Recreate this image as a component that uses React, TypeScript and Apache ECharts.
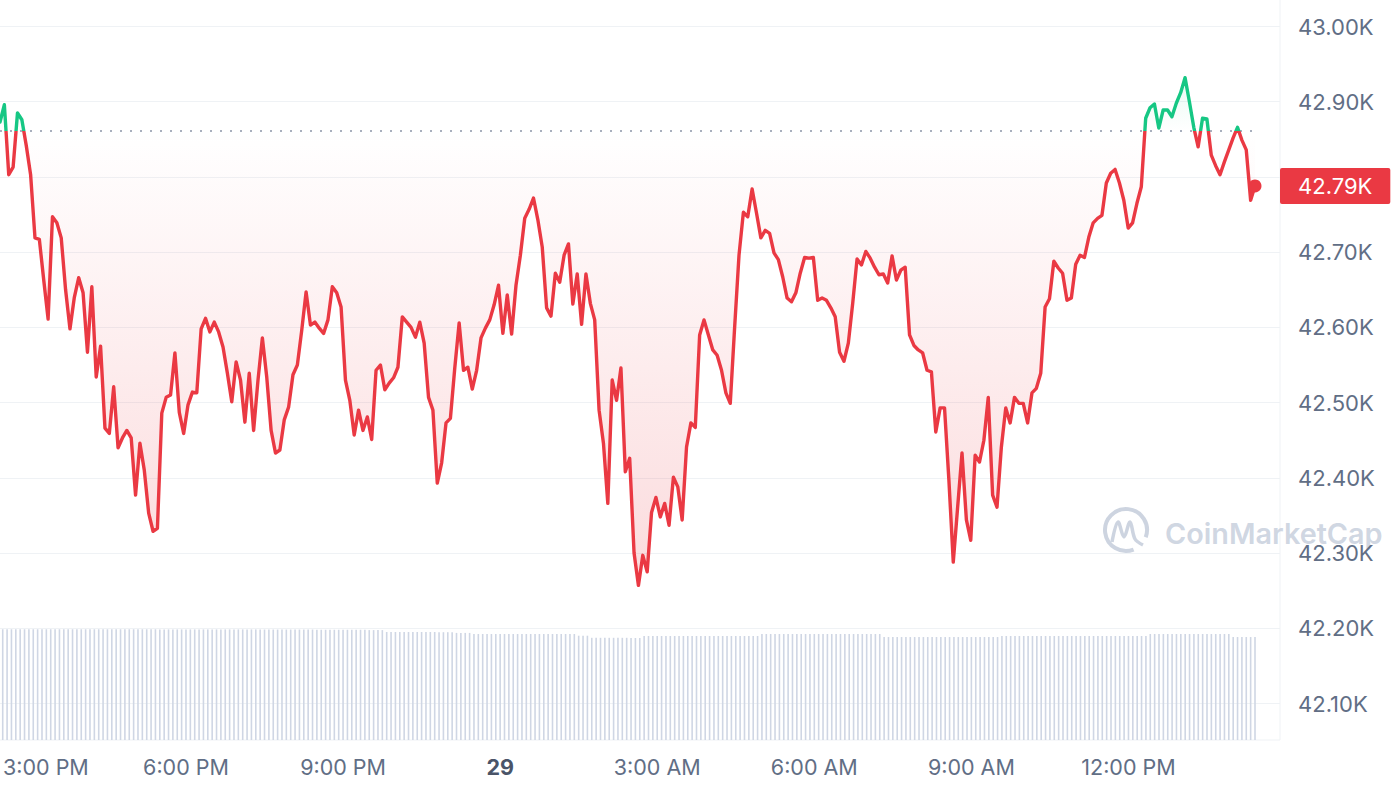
import React, { useEffect, useRef } from "react";
import * as echarts from "echarts";

// ---- data ----
const BASELINE = 42861;
const START_MINUTE = 14 * 60 + 30; // first point ~2:30 PM, 5-minute steps

const prices: number[] = [
  42873, 42896, 42803, 42813, 42885, 42876, 42842, 42803, 42719, 42717, 42663, 42611,
  42747, 42739, 42719, 42650, 42598, 42640, 42666, 42646, 42567, 42654, 42534, 42575,
  42466, 42459, 42521, 42440, 42453, 42463, 42453, 42377, 42446, 42410, 42353, 42329,
  42333, 42486, 42507, 42510, 42566, 42487, 42459, 42497, 42514, 42513, 42598, 42612,
  42594, 42607, 42594, 42574, 42539, 42501, 42554, 42530, 42474, 42539, 42463, 42530,
  42586, 42534, 42463, 42433, 42437, 42477, 42494, 42537, 42550, 42596, 42647, 42603,
  42607, 42599, 42592, 42610, 42654, 42646, 42627, 42530, 42503, 42457, 42490, 42463,
  42481, 42451, 42543, 42550, 42517, 42526, 42533, 42547, 42614, 42607, 42600, 42587,
  42607, 42579, 42507, 42490, 42393, 42420, 42473, 42479, 42546, 42606, 42543, 42547,
  42518, 42543, 42586, 42599, 42610, 42630, 42656, 42592, 42643, 42591, 42656, 42696,
  42745, 42757, 42772, 42743, 42707, 42626, 42615, 42672, 42660, 42696, 42711, 42631,
  42671, 42604, 42671, 42632, 42610, 42490, 42446, 42366, 42530, 42503, 42546, 42408,
  42426, 42300, 42257, 42297, 42275, 42354, 42374, 42348, 42366, 42337, 42401, 42388,
  42344, 42441, 42473, 42467, 42590, 42610, 42590, 42570, 42563, 42543, 42513, 42499,
  42600, 42696, 42753, 42747, 42784, 42752, 42719, 42729, 42725, 42699, 42690, 42667,
  42639, 42634, 42646, 42672, 42693, 42692, 42693, 42636, 42639, 42636, 42626, 42614,
  42567, 42555, 42579, 42632, 42691, 42683, 42701, 42692, 42680, 42670, 42671, 42659,
  42695, 42663, 42676, 42680, 42590, 42576, 42570, 42566, 42543, 42541, 42461, 42493,
  42493, 42397, 42288, 42361, 42433, 42344, 42317, 42430, 42421, 42450, 42507, 42377,
  42361, 42441, 42493, 42473, 42507, 42499, 42499, 42473, 42513, 42519, 42539, 42627,
  42638, 42688, 42679, 42672, 42636, 42639, 42684, 42696, 42693, 42720, 42739, 42745,
  42749, 42792, 42805, 42810, 42792, 42769, 42732, 42739, 42765, 42787, 42878, 42892,
  42897, 42865, 42889, 42889, 42880, 42898, 42912, 42932, 42900, 42866, 42840, 42878,
  42877, 42829, 42815, 42803, 42820, 42836, 42852, 42866, 42849, 42836, 42769, 42788,
];

// volume (billions), one bar per price point
const volumes: number[] = [
  15.82, 15.82, 15.82, 15.82, 15.82, 15.82, 15.82, 15.82, 15.82, 15.82, 15.82, 15.82,
  15.82, 15.82, 15.82, 15.82, 15.82, 15.82, 15.82, 15.82, 15.82, 15.82, 15.82, 15.82,
  15.82, 15.82, 15.82, 15.82, 15.82, 15.82, 15.82, 15.82, 15.82, 15.82, 15.82, 15.82,
  15.8, 15.8, 15.8, 15.8, 15.8, 15.8, 15.8, 15.8, 15.8, 15.8, 15.8, 15.8,
  15.8, 15.8, 15.8, 15.8, 15.8, 15.8, 15.8, 15.8, 15.8, 15.8, 15.8, 15.8,
  15.78, 15.78, 15.78, 15.78, 15.78, 15.78, 15.78, 15.78, 15.78, 15.78, 15.78, 15.78,
  15.75, 15.75, 15.75, 15.75, 15.75, 15.75, 15.75, 15.75, 15.75, 15.75, 15.75, 15.75,
  15.7, 15.7, 15.7, 15.7, 15.43, 15.43, 15.43, 15.43, 15.43, 15.43, 15.43, 15.43,
  15.43, 15.43, 15.43, 15.43, 15.4, 15.4, 15.4, 15.4, 15.3, 15.3, 15.3, 15.3,
  15.14, 15.14, 15.14, 15.14, 15.14, 15.14, 15.14, 15.14, 15.14, 15.14, 15.14, 15.14,
  15.14, 15.14, 15.14, 15.14, 15.14, 15.14, 15.14, 15.14, 15.14, 15.14, 15.14, 15.14,
  14.9, 14.9, 14.9, 14.6, 14.6, 14.6, 14.6, 14.6, 14.6, 14.6, 14.6, 14.6,
  14.57, 14.57, 14.57, 14.86, 14.86, 14.86, 14.86, 14.86, 14.86, 14.86, 14.86, 14.86,
  14.86, 14.86, 14.86, 14.86, 14.86, 14.86, 14.86, 14.86, 14.86, 14.86, 14.86, 14.86,
  14.86, 14.86, 14.86, 14.86, 14.86, 14.86, 15.14, 15.14, 15.14, 15.14, 15.14, 15.14,
  15.14, 15.14, 15.14, 15.14, 15.14, 15.14, 15.14, 15.14, 15.14, 15.14, 15.14, 15.14,
  15.14, 15.14, 15.14, 15.14, 15.14, 15.14, 15.14, 15.14, 15.14, 15.14, 14.71, 14.71,
  14.71, 14.71, 14.71, 14.71, 14.71, 14.71, 14.71, 14.71, 14.71, 14.71, 14.71, 14.71,
  14.71, 14.71, 14.71, 14.71, 14.71, 14.71, 14.71, 14.71, 14.71, 14.71, 14.71, 14.71,
  14.71, 14.86, 14.86, 14.86, 14.86, 14.86, 14.86, 14.86, 14.86, 14.86, 14.86, 14.86,
  14.86, 14.86, 14.86, 14.86, 14.86, 14.86, 14.86, 14.86, 14.86, 14.86, 14.86, 14.86,
  14.86, 14.86, 14.86, 14.86, 14.86, 14.86, 14.86, 14.86, 14.86, 14.86, 14.86, 15.14,
  15.14, 15.14, 15.14, 15.14, 15.14, 15.14, 15.14, 15.14, 15.14, 15.14, 15.14, 15.14,
  15.14, 15.14, 15.14, 15.14, 15.14, 15.14, 14.71, 14.71, 14.71, 14.71, 14.71, 14.71,
];

const xTickLabels = ["3:00 PM", "6:00 PM", "9:00 PM", "29", "3:00 AM", "6:00 AM", "9:00 AM", "12:00 PM"];

const categories: string[] = prices.map((_, i) => {
  const t = (START_MINUTE + 5 * i) % 1440;
  if (t === 0) return "29";
  const h24 = Math.floor(t / 60);
  const m = t % 60;
  const h12 = h24 % 12 === 0 ? 12 : h24 % 12;
  return `${h12}:${String(m).padStart(2, "0")} ${h24 < 12 ? "AM" : "PM"}`;
});

const RED = "#ea3943";
const GREEN = "#16c784";
const LABEL = "#616e85";
const GRIDLINE = "#eff2f5";

const fmtK = (v: number) => (v / 1000).toFixed(2) + "K";

export default function App() {
  const ref = useRef<HTMLDivElement>(null);

  useEffect(() => {
    if (!ref.current) return;
    const chart = echarts.init(ref.current, null, { renderer: "svg" });
    const last = prices[prices.length - 1];
    const redBase = prices.map((p) => Math.min(p, BASELINE));
    const redFill = prices.map((p) => BASELINE - Math.min(p, BASELINE));
    const greenBase = prices.map(() => BASELINE);
    const greenFill = prices.map((p) => Math.max(p, BASELINE) - BASELINE);

    const option: any = {
      animation: false,
      backgroundColor: "#ffffff",
      textStyle: { fontFamily: "Inter, 'Noto Sans', sans-serif" },
      grid: [
        { left: 0, right: 112, top: 26.5, bottom: 88.5 },
        { left: 0, right: 137, top: 26.5, bottom: 88.5 },
        { left: 0, right: 137, top: 600, bottom: 52 },
      ],
      xAxis: [
        { gridIndex: 0, type: "value", min: 0, max: 1, show: false },
        { gridIndex: 1, type: "category", data: categories, boundaryGap: false, show: false },
        {
          gridIndex: 2,
          type: "category",
          data: categories,
          boundaryGap: false,
          axisLine: { show: false },
          axisTick: { show: false },
          axisLabel: {
            interval: (_i: number, v: string) => xTickLabels.includes(v),
            margin: 16,
            color: LABEL,
            fontSize: 21.5,
            formatter: (v: string) =>
              v === xTickLabels[3] ? `{b|${v}}` : v === xTickLabels[0] ? `{f|${v}}` : v,
            rich: {
              b: { fontWeight: "bold", fontSize: 21.5, color: "#4a5468" },
              f: { fontSize: 21.5, color: LABEL, padding: [0, 0, 0, 34] },
            },
          },
        },
      ],
      yAxis: [
        {
          gridIndex: 0,
          type: "value",
          position: "right",
          min: 42100,
          max: 43000,
          interval: 100,
          axisLine: { show: false },
          axisTick: { show: false },
          splitLine: { show: true, lineStyle: { color: GRIDLINE, width: 1 } },
          axisLabel: {
            margin: 18,
            color: LABEL,
            fontSize: 22,
            // the label hidden under the last-price tag is not shown
            formatter: (v: number) => (Math.abs(v - last) < 40 ? "" : fmtK(v)),
          },
        },
        { gridIndex: 1, type: "value", min: 42100, max: 43000, show: false },
        { gridIndex: 2, type: "value", min: 0, max: 20, show: false },
      ],
      visualMap: {
        type: "piecewise",
        show: false,
        seriesIndex: 4,
        dimension: 1,
        pieces: [
          { gte: 42000, lt: BASELINE, color: RED },
          { gte: BASELINE, lte: 43100, color: GREEN },
        ],
        outOfRange: { color: RED },
      },
      series: [
        {
          type: "line", xAxisIndex: 1, yAxisIndex: 1, stack: "red", data: redBase,
          symbol: "none", silent: true, lineStyle: { opacity: 0 },
        },
        {
          type: "line", xAxisIndex: 1, yAxisIndex: 1, stack: "red", data: redFill,
          symbol: "none", silent: true, lineStyle: { opacity: 0 },
          areaStyle: {
            color: {
              type: "linear", x: 0, y: 131, x2: 0, y2: 600, global: true,
              colorStops: [
                { offset: 0, color: "rgba(234,57,67,0.0)" },
                { offset: 1, color: "rgba(234,57,67,0.27)" },
              ],
            },
          },
        },
        {
          type: "line", xAxisIndex: 1, yAxisIndex: 1, stack: "green", data: greenBase,
          symbol: "none", silent: true, lineStyle: { opacity: 0 },
        },
        {
          type: "line", xAxisIndex: 1, yAxisIndex: 1, stack: "green", data: greenFill,
          symbol: "none", silent: true, lineStyle: { opacity: 0 },
          areaStyle: {
            color: {
              type: "linear", x: 0, y: 131, x2: 0, y2: 70, global: true,
              colorStops: [
                { offset: 0, color: "rgba(22,199,132,0.0)" },
                { offset: 1, color: "rgba(22,199,132,0.16)" },
              ],
            },
          },
        },
        {
          type: "line",
          xAxisIndex: 1,
          yAxisIndex: 1,
          data: prices,
          symbol: "none",
          lineStyle: { width: 3.4, join: "round", cap: "round" },
          z: 5,
          markLine: {
            silent: true,
            symbol: ["none", "none"],
            data: [
              {
                yAxis: BASELINE,
                lineStyle: { type: [2, 8], color: "#8c95a8", width: 1.5 },
                label: { show: false },
              },
              {
                yAxis: last,
                lineStyle: { width: 0, color: "rgba(0,0,0,0)" },
                label: {
                  show: true,
                  position: "end",
                  distance: 25,
                  formatter: fmtK(last),
                  backgroundColor: RED,
                  color: "#ffffff",
                  fontSize: 22,
                  padding: [7, 18, 7, 18],
                  borderRadius: 2,
                },
              },
            ],
          },
          markPoint: {
            silent: true,
            data: [
              {
                coord: [prices.length - 1, last],
                symbol: "circle",
                symbolSize: 13,
                itemStyle: { color: RED },
                label: { show: false },
              },
            ],
          },
        },
        {
          type: "bar",
          xAxisIndex: 2,
          yAxisIndex: 2,
          data: volumes,
          barWidth: 1.6,
          silent: true,
          itemStyle: { color: "#cfd6e4" },
        },
      ],
      graphic: [
        { type: "line", silent: true, shape: { x1: 1280, y1: 0, x2: 1280, y2: 740 }, style: { stroke: GRIDLINE, lineWidth: 1 } },
        { type: "line", silent: true, shape: { x1: 0, y1: 740, x2: 1280, y2: 740 }, style: { stroke: GRIDLINE, lineWidth: 1 } },
        {
          type: "arc",
          silent: true,
          shape: { cx: 1126, cy: 530, r: 21, startAngle: 1.2, endAngle: 0.35 + Math.PI * 2, clockwise: true },
          style: { stroke: "rgba(196,204,219,0.85)", lineWidth: 4, fill: "none" },
        },
        {
          type: "polyline",
          silent: true,
          shape: { points: [[1112, 542], [1118, 522], [1124, 537], [1130, 522], [1135, 539], [1143, 545]], smooth: 0.35 },
          style: { stroke: "rgba(196,204,219,0.85)", lineWidth: 3.5, fill: "none" },
        },
        {
          type: "text",
          silent: true,
          x: 1165,
          y: 533,
          style: {
            text: "CoinMarketCap",
            fill: "rgba(196,204,219,0.8)",
            fontSize: 28.8,
            fontWeight: 600,
            fontFamily: "Inter",
            verticalAlign: "middle",
          },
        },
      ],
    };

    try {
      chart.setOption(option);
    } catch (e: any) {
      throw new Error(String(e && e.stack));
    }
    return () => chart.dispose();
  }, []);

  return (
    <div
      ref={ref}
      style={{ position: "fixed", left: 0, top: 0, width: 1392, height: 792, background: "#fff" }}
    />
  );
}
